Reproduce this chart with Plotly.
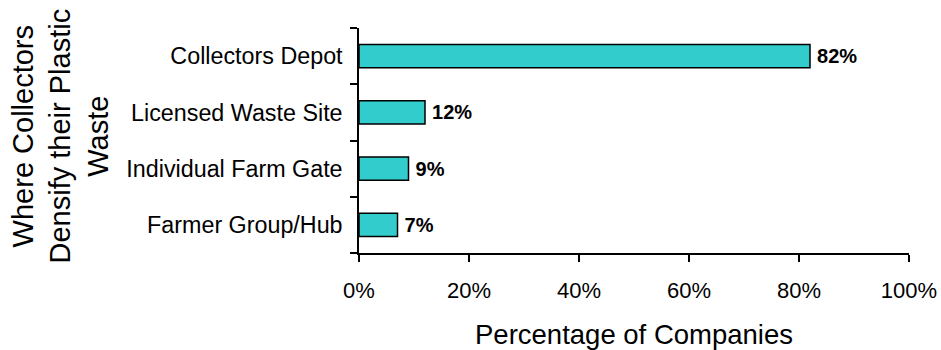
import plotly.graph_objects as go

# Where collectors densify their plastic waste (share of companies)
locations = ["Farmer Group/Hub", "Individual Farm Gate", "Licensed Waste Site", "Collectors Depot"]
shares = [7, 9, 12, 82]
x_tick_values = [0, 20, 40, 60, 80, 100]
x_tick_labels = ["0%", "20%", "40%", "60%", "80%", "100%"]
y_title = "Where Collectors<br>Densify their Plastic<br>Waste"

FONT = "Liberation Sans, Arial, sans-serif"

fig = go.Figure(
    go.Bar(
        x=shares,
        y=locations,
        orientation="h",
        marker=dict(color="#33CCCC", line=dict(color="black", width=1.5)),
        # thin space keeps the value label a little clear of the bar end
        text=[f"\u2009{v}%" for v in shares],
        textposition="outside",
        textfont=dict(family=FONT, size=20, color="black", weight="bold"),
        cliponaxis=False,
    )
)

fig.update_layout(
    width=941,
    height=350,
    margin=dict(l=359, r=32, t=28, b=97),
    paper_bgcolor="white",
    plot_bgcolor="white",
    showlegend=False,
    bargap=0.59,
    font=dict(family=FONT, color="black"),
)

fig.update_xaxes(
    range=[0, 100],
    tickvals=x_tick_values,
    ticktext=x_tick_labels,
    tickfont=dict(size=22),
    ticks="outside",
    ticklen=7,
    tickwidth=1.5,
    tickcolor="black",
    ticklabelstandoff=10,
    showline=True,
    linecolor="black",
    linewidth=1.5,
    showgrid=False,
    zeroline=False,
    title=dict(text="Percentage of Companies", font=dict(size=27.5), standoff=24),
    automargin=False,
)

fig.update_yaxes(
    categoryorder="array",
    categoryarray=locations,
    tickfont=dict(size=23.3),
    ticks="outside",
    tickson="boundaries",
    ticklen=7,
    tickwidth=1.5,
    tickcolor="black",
    ticklabelstandoff=10,
    showline=True,
    linecolor="black",
    linewidth=1.5,
    showgrid=False,
    automargin=False,
)

# rotated three-line title for the category axis, set well left of the labels
fig.add_annotation(
    text=y_title,
    textangle=-90,
    xref="paper",
    yref="paper",
    x=0,
    y=0.5,
    xanchor="center",
    yanchor="middle",
    xshift=-299,
    yshift=4,
    showarrow=False,
    font=dict(family=FONT, size=29, color="black"),
)

fig.write_html("out.html")
